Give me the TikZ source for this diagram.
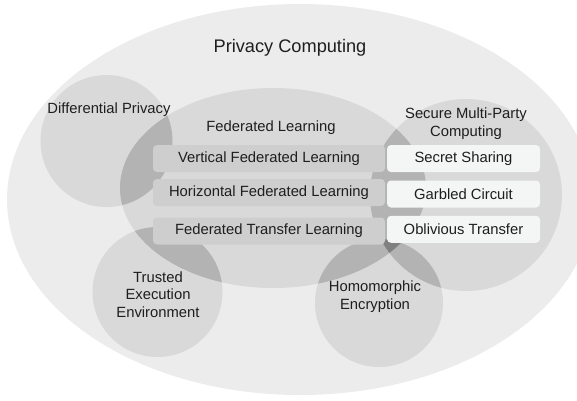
\documentclass[tikz,border=0pt]{standalone}
\usepackage{fontspec}
\setmainfont{Liberation Sans}

\begin{document}
\begin{tikzpicture}[x=1pt,y=-1pt]

\newcommand{\blob}[2][d9d9d9] % [color][path]
{
 \definecolor{main}{HTML}{#1}
 \fill[main] #2;
}
\newcommand{\ovl}[3][b3b3b3] % [color][path][clip]
{
 \begin{scope}
  \clip #3;
  \blob[#1]{#2}
 \end{scope}
}

\definecolor{txt}{HTML}{1E1E1E}
\definecolor{boxgray}{HTML}{CECECE}
\definecolor{boxwhite}{HTML}{F4F5F5}
\tikzset{
 lbl/.style={font=\fontsize{14.8}{17.5}\selectfont, text=txt, align=center, inner sep=0},
 flbox/.style={lbl, fill=boxgray, rounded corners=4pt, minimum width=232pt, minimum height=27pt},
 mpcbox/.style={lbl, fill=boxwhite, rounded corners=4pt, minimum width=153pt, minimum height=27pt}
}

\def\pcshape {(300,199.5) ellipse [x radius=293, y radius=195.5]}
\def\flshape {(273,188) ellipse [x radius=153, y radius=100]}
\def\dpshape {(106.5,141) circle (66)}
\def\mpcshape {(466,195) circle (96)}
\def\teeshape {(157.5,292) circle (65)}
\def\heshape {(379,303) circle (64)}

\useasboundingbox (0,0) rectangle (577,400);
\clip (0,0) rectangle (577,400);

\blob[ECECEC]{\pcshape}
\blob{\flshape} \blob{\dpshape} \blob{\mpcshape} \blob{\teeshape} \blob{\heshape}

\ovl{\dpshape}{\flshape}
\ovl{\teeshape}{\flshape}
\ovl{\heshape}{\flshape}
\ovl{\mpcshape}{\flshape}
\ovl{\heshape}{\mpcshape}
\begin{scope}
 \clip \flshape; \clip \mpcshape;
 \blob[808080]{\heshape}
\end{scope}

\node[lbl, font=\fontsize{18.2}{22}\selectfont] (pctitle) at (290,48) {Privacy Computing};
\node[lbl] (dptitle) at (109,110) {Differential Privacy};
\node[lbl] (fltitle) at (271,128) {Federated Learning};
\node[lbl] (mpctitle) at (466,123.5) {Secure Multi-Party\\Computing};
\node[lbl] (teetitle) at (158,294.5) {Trusted\\Execution\\Environment};
\node[lbl] (hetitle) at (375,296.5) {Homomorphic\\Encryption};

\node[flbox] (vfl) at (269,158.5) {Vertical Federated Learning};
\node[flbox] (hfl) at (269,192.5) {Horizontal Federated Learning};
\node[flbox] (ftl) at (269,231) {Federated Transfer Learning};

\node[mpcbox] (ss) at (463.5,158.5) {Secret Sharing};
\node[mpcbox] (gc) at (463.5,194) {Garbled Circuit};
\node[mpcbox] (ot) at (463.5,229.3) {Oblivious Transfer};

\end{tikzpicture}
\end{document}
